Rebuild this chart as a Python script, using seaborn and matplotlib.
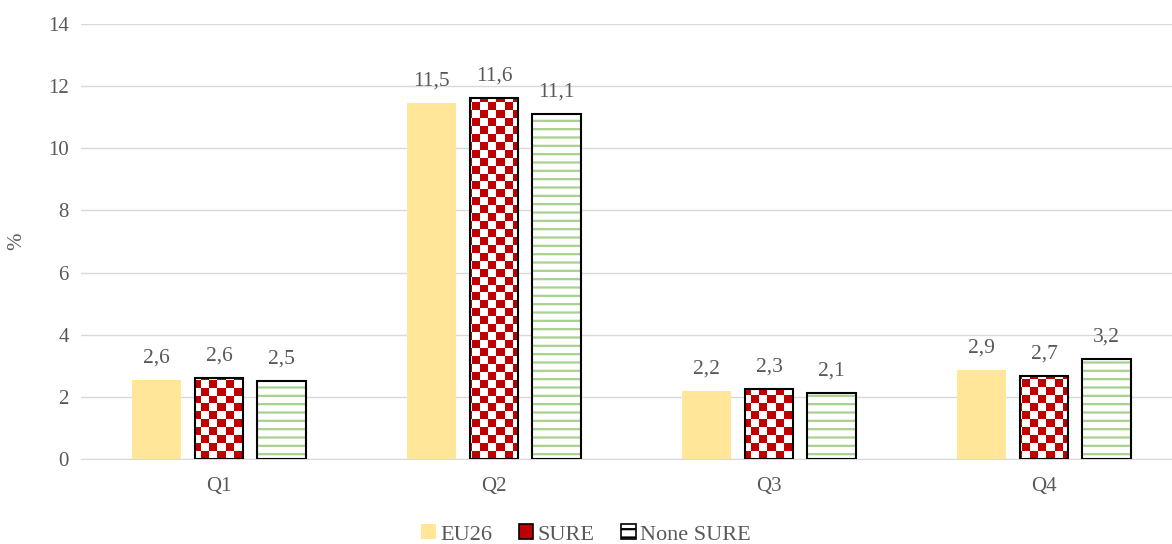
import numpy as np
import pandas as pd
import matplotlib
matplotlib.use('Agg')
import matplotlib.pyplot as plt
import seaborn as sns
from matplotlib.patches import Patch, Rectangle
from matplotlib.colors import ListedColormap

# ---- data
quarters = ['Q1', 'Q2', 'Q3', 'Q4']
series = ['EU26', 'SURE', 'None SURE']
eu26 = [2.56, 11.46, 2.20, 2.86]
sure = [2.60, 11.62, 2.27, 2.68]
none_sure = [2.50, 11.10, 2.12, 3.22]

df = pd.DataFrame({
    'quarter': quarters * 3,
    'group': [s for s in series for _ in quarters],
    'value': eu26 + sure + none_sure,
})

sns.set_style('white')
plt.rcParams['font.family'] = ['Liberation Serif', 'DejaVu Serif']
plt.rcParams['hatch.linewidth'] = 1.6

yellow = '#FFE699'
red = '#C00000'
green = '#A9D18E'
grey_txt = '#595959'

fig = plt.figure(figsize=(11.72, 5.44), dpi=100)
ax = fig.add_axes([0.0695, 0.156, 0.9386, 0.8])

sns.barplot(data=df, x='quarter', y='value', hue='group', hue_order=series,
            palette=[yellow, 'white', 'white'], width=0.684, gap=0.226,
            saturation=1, legend=False, ax=ax)

ax.set_ylim(0, 14)
xlim = ax.get_xlim()
ax.set_yticks(range(0, 15, 2))
ax.yaxis.grid(True, color='#D9D9D9', linewidth=1)
ax.set_axisbelow(True)
for s in ['top', 'right', 'left']:
    ax.spines[s].set_visible(False)
ax.spines['bottom'].set_color('#D9D9D9')
ax.tick_params(axis='both', length=0, labelsize=15, labelcolor=grey_txt, pad=9)
ax.tick_params(axis='x', pad=13)
ax.set_xlabel('')
ax.set_ylabel('%', fontsize=15, color=grey_txt, labelpad=16)

c_eu, c_sure, c_none = ax.containers

for p in c_eu:
    p.set_edgecolor('none')

# checkerboard fill for SURE
n = 8  # px per square
h_px, w_px = 440, 1104
yy, xx = np.mgrid[0:h_px // n, 0:w_px // n]
checker = ((xx + yy) % 2).astype(float)
cmap = ListedColormap(['white', red])
for p in c_sure:
    p.set_edgecolor('black')
    p.set_linewidth(1.5)
    p.set_zorder(3)
    im = ax.imshow(checker, cmap=cmap, extent=[0, 1, 0, 1], transform=ax.transAxes,
                   aspect='auto', interpolation='nearest', zorder=2)
    im.set_clip_path(p)
    p.set_facecolor('none')
ax.set_xlim(xlim)
ax.set_ylim(0, 14)

# horizontal green lines for None SURE
for p in c_none:
    x0, y0 = p.get_x(), p.get_y()
    w, h = p.get_width(), p.get_height()
    p.set_facecolor('white')
    p.set_edgecolor(green)
    p.set_hatch('--')
    p.set_linewidth(0)
    ax.add_patch(Rectangle((x0, y0), w, h, facecolor='none', edgecolor='black',
                           linewidth=1.5, zorder=3))

for cont, vals in zip(ax.containers, [eu26, sure, none_sure]):
    labels = [f'{v:.1f}'.replace('.', ',') for v in vals]
    ax.bar_label(cont, labels=labels, padding=9, fontsize=15.5, color=grey_txt)

handles = [
    Patch(facecolor=yellow, edgecolor='none'),
    Patch(facecolor=red, edgecolor='black', linewidth=1.2),
    Patch(facecolor='white', edgecolor='black', hatch='--', linewidth=1.2),
]
leg = fig.legend(handles, series, loc='lower center', bbox_to_anchor=(0.5, -0.038),
                 ncol=3, frameon=False, fontsize=16, handlelength=0.65,
                 handleheight=0.65, handletextpad=0.2, columnspacing=1.2)
for t in leg.get_texts():
    t.set_color(grey_txt)

fig.savefig('out.png', dpi=100)
